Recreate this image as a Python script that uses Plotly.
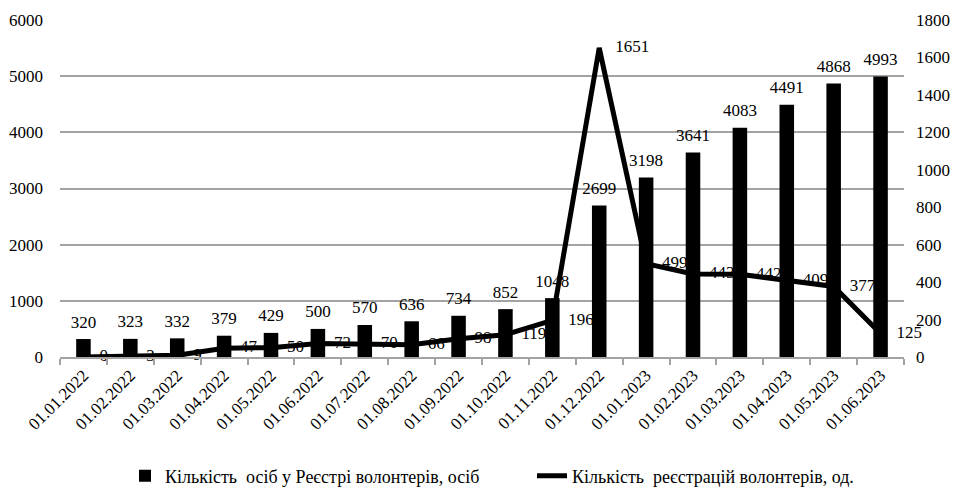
import plotly.graph_objects as go

dates = ["01.01.2022", "01.02.2022", "01.03.2022", "01.04.2022", "01.05.2022", "01.06.2022",
         "01.07.2022", "01.08.2022", "01.09.2022", "01.10.2022", "01.11.2022", "01.12.2022",
         "01.01.2023", "01.02.2023", "01.03.2023", "01.04.2023", "01.05.2023", "01.06.2023"]
registry_persons = [320, 323, 332, 379, 429, 500, 570, 636, 734, 852, 1048, 2699,
                    3198, 3641, 4083, 4491, 4868, 4993]
registrations = [0, 3, 9, 47, 50, 72, 70, 66, 98, 119, 196, 1651,
                 499, 443, 442, 409, 377, 125]
bar_name = "Кількість  осіб у Реєстрі волонтерів, осіб"
line_name = "Кількість  реєстрацій волонтерів, од."
left_ticks = [0, 1000, 2000, 3000, 4000, 5000, 6000]
right_ticks = [0, 200, 400, 600, 800, 1000, 1200, 1400, 1600, 1800]

FONT = "Liberation Serif"
GRID = "#a3a3a3"

# The page has an 8px default body margin, so the figure is sized to fill the rest.
W, H = 950, 481

fig = go.Figure()
fig.add_trace(go.Bar(
    x=dates, y=registry_persons, name=bar_name,
    marker=dict(color="black", line=dict(width=0)),
    width=0.31, yaxis="y", legend="legend",
))
# value labels above the bars
fig.add_trace(go.Scatter(
    x=dates, y=registry_persons, yaxis="y", mode="markers+text",
    marker=dict(size=10, color="rgba(0,0,0,0)"),
    text=[str(v) for v in registry_persons], textposition="top center",
    textfont=dict(family=FONT, size=17, color="black"),
    cliponaxis=False, showlegend=False, hoverinfo="skip",
))
fig.add_trace(go.Scatter(
    x=dates, y=registrations, name=line_name, yaxis="y2",
    mode="lines+markers+text",
    line=dict(color="black", width=5),
    marker=dict(size=24, color="rgba(0,0,0,0)"),
    text=[str(v) for v in registrations], textposition="middle right",
    textfont=dict(family=FONT, size=17, color="black"),
    cliponaxis=False, legend="legend2",
))

legend_common = dict(orientation="h", xref="container", yref="container",
                     xanchor="left", y=13 / H, yanchor="middle",
                     font=dict(family=FONT, size=18, color="black"),
                     itemwidth=30, bgcolor="rgba(0,0,0,0)")

fig.update_layout(
    width=W, height=H,
    margin=dict(l=52, r=54, t=12, b=132),
    paper_bgcolor="white", plot_bgcolor="white",
    font=dict(family=FONT, size=17, color="black"),
    showlegend=True,
    legend=dict(x=117 / W, **legend_common),
    legend2=dict(x=524 / W, **legend_common),
    xaxis=dict(
        type="category", range=[-0.5, 17.5], tickangle=-45, showgrid=False,
        automargin=False,
        showline=True, linecolor=GRID, linewidth=1.5,
        ticks="outside", tickson="boundaries", ticklen=6, tickcolor=GRID, tickwidth=1.5,
        tickfont=dict(family=FONT, size=17, color="black"),
    ),
    yaxis=dict(
        range=[0, 6000], tickvals=left_ticks, showgrid=True, automargin=False,
        gridcolor=GRID, gridwidth=1.8, zeroline=False, showline=False,
        tickfont=dict(family=FONT, size=17, color="black"),
        ticklabelstandoff=16,
    ),
    yaxis2=dict(
        range=[0, 1800], tickvals=right_ticks, overlaying="y", side="right",
        showgrid=False, zeroline=False, showline=False, automargin=False,
        tickfont=dict(family=FONT, size=17, color="black"),
        ticklabelstandoff=11,
    ),
)

fig.write_html("out.html")
